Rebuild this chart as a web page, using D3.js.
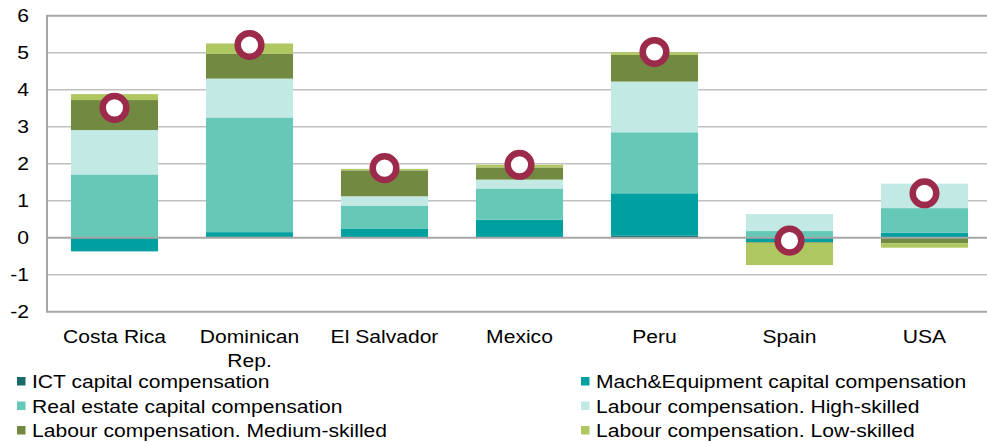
<!DOCTYPE html>
<html>
<head>
<meta charset="utf-8">
<script src="https://cdn.jsdelivr.net/npm/d3@7"></script>
<style>
  body { margin: 0; background: #fff; }
  text { font-family: "Liberation Sans", Arial, sans-serif; fill: #000; }
</style>
</head>
<body>
<div id="chart"></div>
<script>
// categories and stacked components (percentage points)
const categories = ["Costa Rica", "Dominican Rep.", "El Salvador", "Mexico", "Peru", "Spain", "USA"];
const ict        = [0.00, 0.02, 0.01, 0.01, 0.05, 0.00, 0.01];
const machEquip  = [-0.37, 0.13, 0.24, 0.48, 1.15, -0.12, 0.13];
const realEstate = [1.71, 3.10, 0.62, 0.84, 1.65, 0.18, 0.66];
const highSkill  = [1.20, 1.05, 0.25, 0.24, 1.37, 0.46, 0.66];
const medSkill   = [0.81, 0.67, 0.70, 0.33, 0.72, -0.02, -0.15];
const lowSkill   = [0.16, 0.28, 0.04, 0.07, 0.07, -0.60, -0.12];
const totals     = [3.51, 5.21, 1.88, 1.97, 5.02, -0.08, 1.20];
const yTicks     = [-2, -1, 0, 1, 2, 3, 4, 5, 6];

const seriesNames = [
  "ICT capital compensation",
  "Mach&Equipment capital compensation",
  "Real estate capital compensation",
  "Labour compensation. High-skilled",
  "Labour compensation. Medium-skilled",
  "Labour compensation. Low-skilled"
];
const seriesValues = [ict, machEquip, realEstate, highSkill, medSkill, lowSkill];
const colors = ["#1c6b6b", "#00a0a0", "#66c9b7", "#c2e9e3", "#728942", "#afc760"];

const W = 987, H = 442;
const plot = { left: 47, top: 15.7, right: 992, bottom: 311.7 };
const SX = 1.14; // horizontal text stretch of the original export

const svg = d3.select("#chart").append("svg")
  .attr("width", W).attr("height", H);

const x = d3.scaleBand().domain(categories)
  .range([plot.left, plot.right])
  .paddingInner(0.355).paddingOuter(0.1775);
const y = d3.scaleLinear().domain([-2, 6]).range([plot.bottom, plot.top]);

// gridlines
svg.append("g").selectAll("line")
  .data(yTicks.filter(t => t > -2 && t < 6 && t !== 0))
  .enter().append("line")
  .attr("x1", plot.left).attr("x2", plot.right)
  .attr("y1", d => y(d)).attr("y2", d => y(d))
  .attr("stroke", "#c0c0c0").attr("stroke-width", 1.5);

// stacked bars
const rows = categories.map((c, i) => {
  const r = { cat: c };
  seriesNames.forEach((s, k) => r[s] = seriesValues[k][i]);
  return r;
});
const stacked = d3.stack().keys(seriesNames).offset(d3.stackOffsetDiverging)(rows);

svg.append("g").selectAll("g")
  .data(stacked).enter().append("g")
  .attr("fill", (d, i) => colors[i])
  .selectAll("rect")
  .data(d => d).enter().append("rect")
  .attr("x", d => x(d.data.cat))
  .attr("width", x.bandwidth())
  .attr("y", d => y(Math.max(d[0], d[1])))
  .attr("height", d => Math.abs(y(d[0]) - y(d[1])));

// zero axis line and frame
svg.append("line")
  .attr("x1", plot.left).attr("x2", plot.right)
  .attr("y1", y(0)).attr("y2", y(0))
  .attr("stroke", "#a6a6a6").attr("stroke-width", 2);
svg.append("path")
  .attr("d", `M${plot.right},${plot.top}H${plot.left}V${plot.bottom}H${plot.right}`)
  .attr("fill", "none").attr("stroke", "#a6a6a6").attr("stroke-width", 2);

// total markers
svg.append("g").selectAll("circle")
  .data(totals).enter().append("circle")
  .attr("cx", (d, i) => x(categories[i]) + x.bandwidth() / 2)
  .attr("cy", d => y(d))
  .attr("r", 11.8)
  .attr("fill", "#fff")
  .attr("stroke", "#9c2a4b")
  .attr("stroke-width", 6.5);

// y axis labels
svg.append("g").selectAll("text")
  .data(yTicks).enter().append("text")
  .attr("transform", d => `translate(29,${y(d) + 6.6}) scale(${SX},1)`)
  .attr("text-anchor", "end")
  .style("font-size", "18.5px")
  .text(d => d);

// x axis labels
const xl = svg.append("g").selectAll("text")
  .data(categories).enter().append("text")
  .attr("transform", d => `translate(${x(d) + x.bandwidth() / 2},343) scale(${SX},1)`)
  .attr("text-anchor", "middle")
  .style("font-size", "18.5px");
xl.each(function(d) {
  const parts = d === "Dominican Rep." ? ["Dominican", "Rep."] : [d];
  parts.forEach((p, j) => {
    d3.select(this).append("tspan").attr("x", 0).attr("dy", j ? 24.5 : 0).text(p);
  });
});

// legend
const legend = svg.append("g").selectAll("g")
  .data(seriesNames).enter().append("g")
  .attr("transform", (d, i) => `translate(${i % 2 ? 581 : 17},${388 + Math.floor(i / 2) * 24.5})`);
legend.append("rect")
  .attr("x", 0).attr("y", -11).attr("width", 8.5).attr("height", 8.5)
  .attr("fill", (d, i) => colors[i]);
legend.append("text")
  .attr("transform", `translate(15,0) scale(${SX},1)`)
  .style("font-size", "18.5px")
  .text(d => d);
</script>
</body>
</html>
